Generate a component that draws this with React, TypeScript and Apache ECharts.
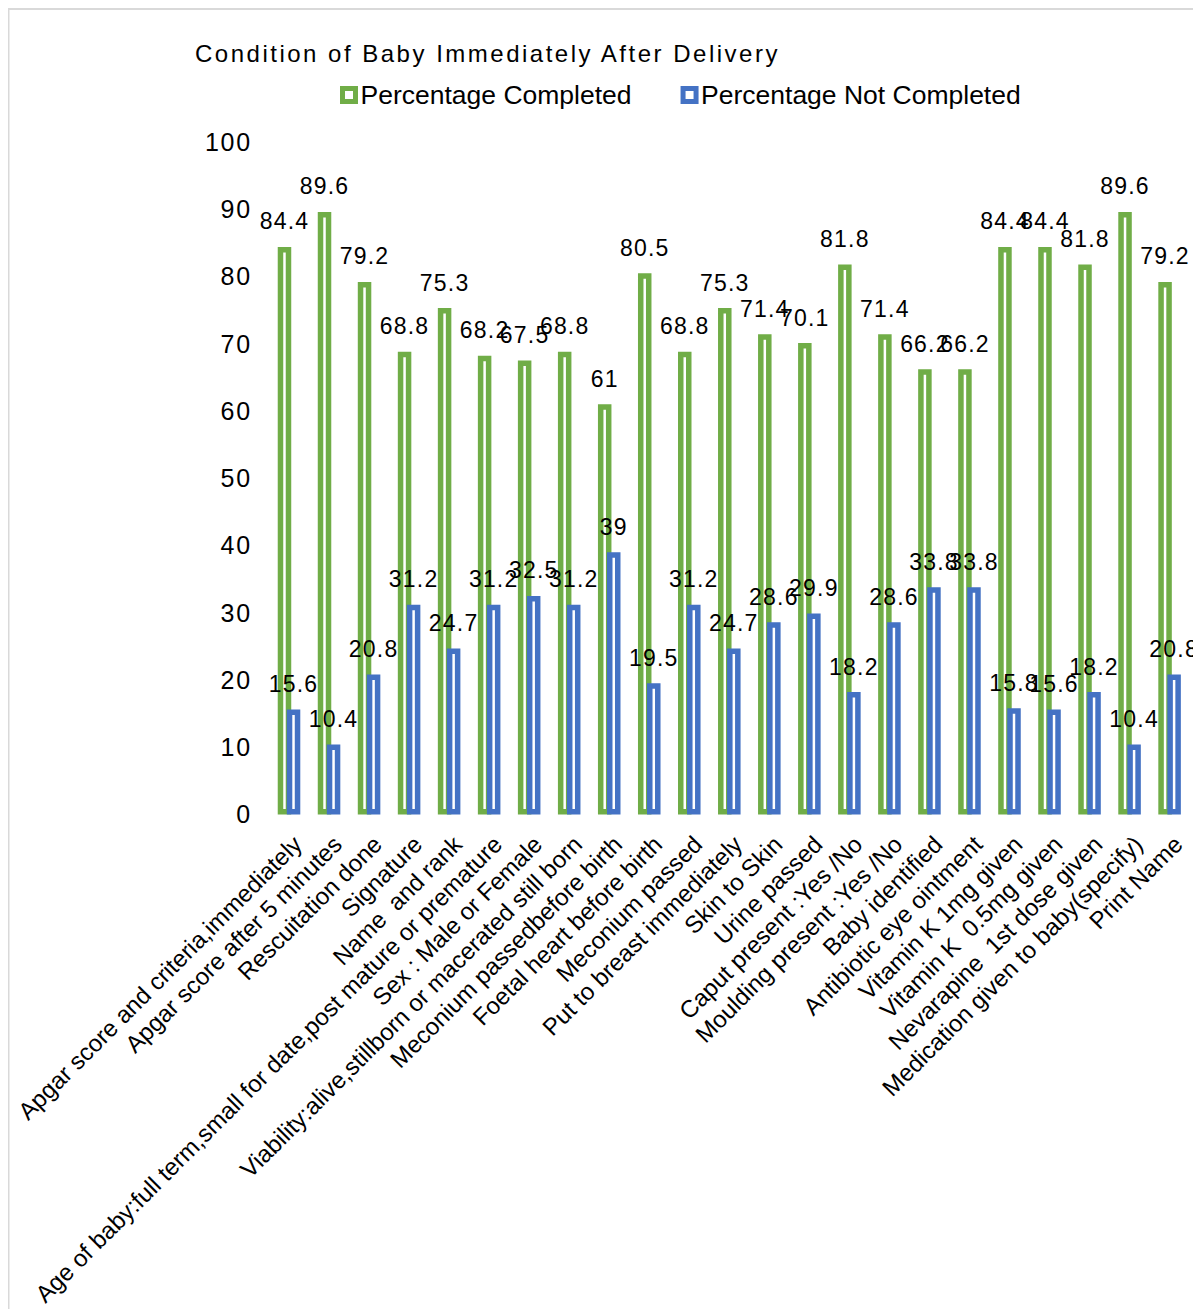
import React, { useEffect, useRef } from "react";
import * as echarts from "echarts";

const TITLE = "Condition of Baby Immediately After Delivery";
const SERIES_NAMES = ["Percentage Completed", "Percentage Not Completed"];

const categories = [
  "Apgar score and criteria,immediately",
  "Apgar score after 5 minutes",
  "Rescuitation done",
  "Signature",
  "Name  and rank",
  "Age of baby:full term,small for date,post mature or premature",
  "Sex : Male or Female",
  "Viability:alive,stillborn or macerated still born",
  "Meconium passedbefore birth",
  "Foetal heart before birth",
  "Meconium passed",
  "Put to breast immediately",
  "Skin to Skin",
  "Urine passed",
  "Caput present :Yes /No",
  "Moulding present :Yes /No",
  "Baby identified",
  "Antibiotic eye ointment",
  "Vitamin K 1mg given",
  "Vitamin K  0.5mg given",
  "Nevarapine  1st dose given",
  "Medication given to baby(specify)",
  "Print Name",
];

const completed = [
  84.4, 89.6, 79.2, 68.8, 75.3, 68.2, 67.5, 68.8, 61, 80.5, 68.8, 75.3, 71.4,
  70.1, 81.8, 71.4, 66.2, 66.2, 84.4, 84.4, 81.8, 89.6, 79.2,
];

const notCompleted = [
  15.6, 10.4, 20.8, 31.2, 24.7, 31.2, 32.5, 31.2, 39, 19.5, 31.2, 24.7, 28.6,
  29.9, 18.2, 28.6, 33.8, 33.8, 15.8, 15.6, 18.2, 10.4, 20.8,
];

const Y_MIN = 0;
const Y_MAX = 100;
const Y_STEP = 10;

const GREEN = "#70AD47";
const BLUE = "#4472C4";
const FONT = "'Liberation Sans', Arial, sans-serif";

export default function App() {
  const ref = useRef<HTMLDivElement>(null);

  useEffect(() => {
    document.documentElement.style.overflow = "hidden";
    const el = ref.current;
    if (!el) return;
    const chart = echarts.init(el, undefined, { renderer: "svg" });

    // Hollow bars: white fill inside a thick coloured outline.
    const barSeries = (name: string, data: number[], color: string) => ({
      type: "bar",
      name,
      data,
      barWidth: 13.5,
      barGap: "-33%",
      itemStyle: { color: "#fff", borderColor: color, borderWidth: 5.5 },
      label: {
        show: true,
        position: "top",
        distance: 14,
        fontSize: 23,
        color: "#000",
        fontFamily: FONT,
      },
    });

    chart.setOption({
      animation: false,
      textStyle: { fontFamily: FONT },
      graphic: [
        {
          type: "rect",
          silent: true,
          z: -10,
          shape: { x: 0.5, y: 1, width: 1400, height: 1500 },
          style: { fill: "none", stroke: "#d9d9d9", lineWidth: 2 },
        },
      ],
      title: {
        text: TITLE,
        left: 187,
        top: 31.5,
        padding: 0,
        textStyle: {
          fontSize: 24,
          fontWeight: "normal",
          color: "#000",
          lineHeight: 28,
          fontFamily: FONT,
        },
      },
      legend: {
        left: 332,
        top: 72,
        padding: 0,
        itemGap: 49,
        itemWidth: 13,
        itemHeight: 13,
        icon: "rect",
        textStyle: {
          fontSize: 26.5,
          color: "#000",
          lineHeight: 30,
          fontFamily: FONT,
        },
        data: [
          {
            name: SERIES_NAMES[0],
            itemStyle: { color: "#fff", borderColor: GREEN, borderWidth: 5 },
          },
          {
            name: SERIES_NAMES[1],
            itemStyle: { color: "#fff", borderColor: BLUE, borderWidth: 5 },
          },
        ],
      },
      grid: { left: 261, top: 134, width: 920.6, height: 676 },
      xAxis: {
        type: "category",
        data: categories,
        axisLine: { show: false },
        axisTick: { show: false },
        axisLabel: {
          interval: 0,
          rotate: 45,
          margin: 17,
          fontSize: 24,
          color: "#000",
          align: "right",
          verticalAlign: "top",
          fontFamily: FONT,
        },
      },
      yAxis: {
        type: "value",
        min: Y_MIN,
        max: Y_MAX,
        interval: Y_STEP,
        axisLine: { show: false },
        axisTick: { show: false },
        splitLine: { show: false },
        axisLabel: { fontSize: 25, color: "#000", margin: 17, fontFamily: FONT },
      },
      series: [
        barSeries(SERIES_NAMES[0], completed, GREEN),
        barSeries(SERIES_NAMES[1], notCompleted, BLUE),
      ],
    });

    // Spread out the characters of the title, tick and value texts.
    const tickTexts: string[] = [];
    for (let v = Y_MIN; v <= Y_MAX; v += Y_STEP) tickTexts.push(String(v));
    const valueTexts = new Set(
      [...completed, ...notCompleted].map((v) => String(v))
    );
    const spaceTexts = () => {
      el.querySelectorAll("svg text").forEach((t) => {
        const s = t.textContent || "";
        if (s === TITLE) t.setAttribute("letter-spacing", "2.5");
        else if (tickTexts.includes(s)) t.setAttribute("letter-spacing", "1.8");
        else if (valueTexts.has(s)) t.setAttribute("letter-spacing", "1.2");
      });
    };
    spaceTexts();
    const timers = [0, 50, 200, 500].map((d) => window.setTimeout(spaceTexts, d));
    chart.on("finished", spaceTexts);

    return () => {
      timers.forEach((t) => window.clearTimeout(t));
      chart.dispose();
    };
  }, []);

  return <div ref={ref} style={{ width: 1193, height: 1301 }} />;
}
